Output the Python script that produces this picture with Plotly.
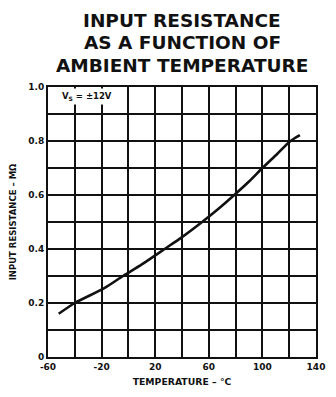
import plotly.graph_objects as go

# Input resistance vs. ambient temperature (Vs = ±12V)
temperature_c = [-52, -40, -18, -4, 10, 27, 40, 55, 67, 79, 90, 100, 111, 121, 128]
resistance_mohm = [0.16, 0.20, 0.255, 0.30, 0.343, 0.40, 0.444, 0.50, 0.548, 0.60, 0.65, 0.70, 0.752, 0.80, 0.822]

x_tick_vals = [-60, -20, 20, 60, 100, 140]
x_tick_text = ["-60", "-20", "20", "60", "100", "140"]
y_tick_vals = [0, 0.2, 0.4, 0.6, 0.8, 1.0]
y_tick_text = ["0", "0.2", "0.4", "0.6", "0.8", "1.0"]
title_lines = ["INPUT RESISTANCE", "AS A FUNCTION OF", "AMBIENT TEMPERATURE"]

FONT = "DejaVu Sans"
INK = "#111111"

fig = go.Figure()
fig.add_trace(go.Scatter(
    x=temperature_c, y=resistance_mohm, mode="lines",
    line=dict(color=INK, width=2.6, shape="spline", smoothing=0.8),
    hoverinfo="skip", showlegend=False,
))

axis_common = dict(
    showgrid=True, gridcolor=INK, gridwidth=1.5,
    showline=True, linecolor=INK, linewidth=2, mirror=True,
    zeroline=False, ticks="", tickfont=dict(family=FONT, size=9, color=INK),
)

fig.update_xaxes(
    range=[-60, 140], tickmode="array", tickvals=x_tick_vals,
    ticktext=[f"<b>{t}</b>" for t in x_tick_text],
    minor=dict(dtick=20, tick0=-60, showgrid=True, gridcolor=INK, gridwidth=1.5, ticks=""),
    title=dict(text="<b>TEMPERATURE – °C</b>", font=dict(family=FONT, size=9.3, color=INK), standoff=8),
    **axis_common,
)
fig.update_yaxes(
    range=[0, 1.0], tickmode="array", tickvals=y_tick_vals,
    ticktext=[f"<b>{t}</b>" for t in y_tick_text],
    minor=dict(dtick=0.1, tick0=0, showgrid=True, gridcolor=INK, gridwidth=1.5, ticks=""),
    title=dict(text="<b>INPUT RESISTANCE – MΩ</b>", font=dict(family=FONT, size=8.5, color=INK), standoff=10),
    **axis_common,
)

fig.add_annotation(
    x=-31, y=0.963, xref="x", yref="y",
    text="<b>V<sub>S</sub> = ±12V</b>", showarrow=False,
    font=dict(family=FONT, size=8.5, color=INK), bgcolor="white", borderpad=2,
)

# Three-line heading above the plot area
for i, line in enumerate(title_lines):
    fig.add_annotation(
        x=0.5, y=1.245 - i * 0.082, xref="paper", yref="paper",
        text=f"<b>{line}</b>", showarrow=False, xanchor="center", yanchor="middle",
        font=dict(family=FONT, size=18.5, color=INK),
    )

fig.update_layout(
    width=336, height=397,
    margin=dict(l=48, r=11, t=87, b=36),
    paper_bgcolor="white", plot_bgcolor="white",
)

fig.write_html("out.html")
